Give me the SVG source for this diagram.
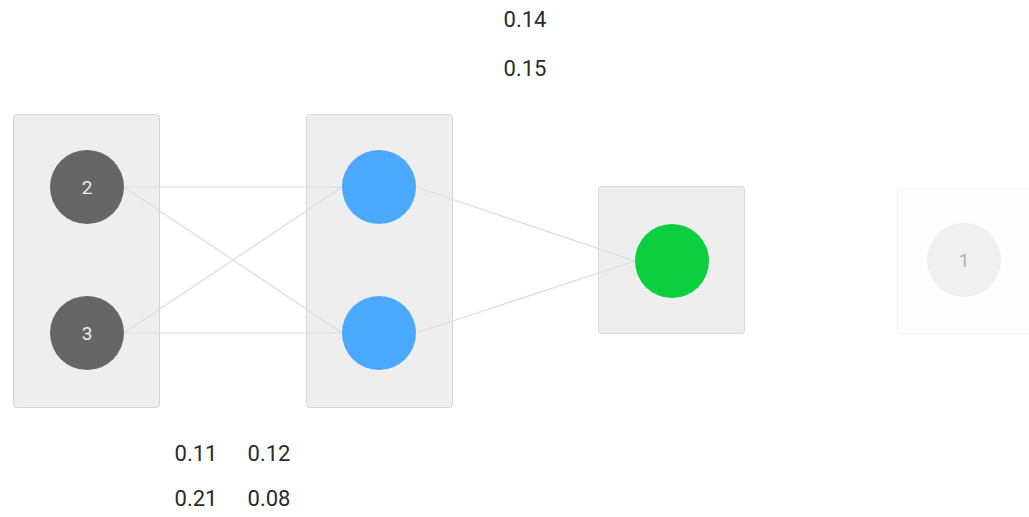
<svg xmlns="http://www.w3.org/2000/svg" width="1029" height="517" viewBox="0 0 1029 517">
  <style>
    .layer { fill: #eeeeee; stroke: #d6d6d6; stroke-width: 1; }
    .ghost { fill: #fefefe; stroke: #f3f3f3; stroke-width: 1; }
    .edge { stroke: #dddddd; stroke-width: 1.2; fill: none; }
    .input { fill: #666666; }
    .hidden { fill: #4aa8ff; }
    .output { fill: #0ccf3f; }
    .nlabel { font-family: Roboto, "Liberation Sans", sans-serif; font-size: 19px; fill: #eeeeee; text-anchor: middle; }
    .weight { font-family: Roboto, "Liberation Sans", sans-serif; font-size: 22px; fill: #2a2a2a; text-anchor: middle; }
  </style>
  <rect width="1029" height="517" fill="#ffffff"/>

  <!-- layer containers -->
  <g id="layer-input"><rect class="layer" x="13.5" y="114.5" width="146" height="293" rx="3"/></g>
  <g id="layer-hidden"><rect class="layer" x="306.5" y="114.5" width="146" height="293" rx="3"/></g>
  <g id="layer-output"><rect class="layer" x="598.5" y="186.5" width="146" height="147" rx="3"/></g>
  <g id="layer-extra"><rect class="ghost" x="897.5" y="188.5" width="140" height="145" rx="3"/></g>

  <!-- connections -->
  <g id="connectors">
    <line class="edge" x1="124" y1="187" x2="342" y2="187"/>
    <line class="edge" x1="124" y1="187" x2="342" y2="333"/>
    <line class="edge" x1="124" y1="333" x2="342" y2="187"/>
    <line class="edge" x1="124" y1="333" x2="342" y2="333"/>
    <line class="edge" x1="416" y1="187" x2="635" y2="261"/>
    <line class="edge" x1="416" y1="333" x2="635" y2="261"/>
  </g>

  <!-- neurons -->
  <g id="node-in-2"><circle class="input" cx="87" cy="187" r="37"/><text class="nlabel" x="87" y="194">2</text></g>
  <g id="node-in-3"><circle class="input" cx="87" cy="333" r="37"/><text class="nlabel" x="87" y="340">3</text></g>
  <g id="node-h1"><circle class="hidden" cx="379" cy="187" r="37"/></g>
  <g id="node-h2"><circle class="hidden" cx="379" cy="333" r="37"/></g>
  <g id="node-out"><circle class="output" cx="672" cy="261" r="37"/></g>
  <g id="node-extra-1"><circle cx="964" cy="260" r="37" fill="#f0f0f0"/><text class="nlabel" x="964" y="267" style="fill:#b0b0b0">1</text></g>

  <!-- weight values -->
  <g id="weights">
    <text class="weight" x="525" y="27">0.14</text>
    <text class="weight" x="525" y="76">0.15</text>
    <text class="weight" x="196" y="461">0.11</text>
    <text class="weight" x="269" y="461">0.12</text>
    <text class="weight" x="196" y="506">0.21</text>
    <text class="weight" x="269" y="506">0.08</text>
  </g>
</svg>
